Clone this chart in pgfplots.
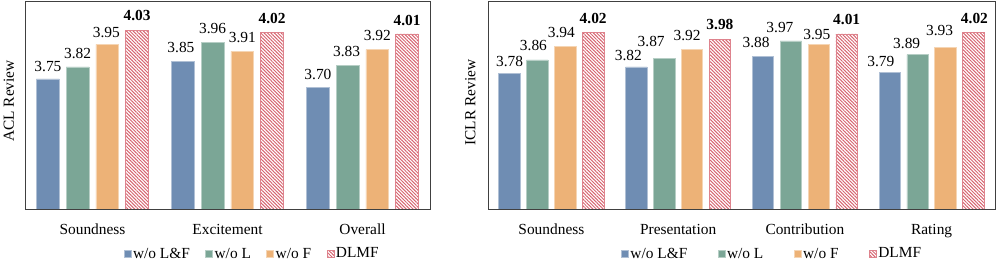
\documentclass[border=0pt]{standalone}
\usepackage{fontspec}
\setmainfont{Liberation Serif}
\usepackage{pgfplots}
\pgfplotsset{compat=1.18}
\usepackage{pgfplotstable}
\usetikzlibrary{patterns,patterns.meta}

\definecolor{cblue}{RGB}{111,141,179}
\definecolor{cgreen}{RGB}{123,166,150}
\definecolor{corange}{RGB}{237,178,119}
\definecolor{cred}{RGB}{214,100,112}
\definecolor{frame}{RGB}{64,64,64}

% ACL review
\pgfplotstableread{
x y dx dy
0 3.75 0 7.6
1 3.85 -2 9
2 3.70 0 8.3
}\ALB
\pgfplotstableread{
x y dx dy
0 3.82 0 8.3
1 3.96 0 9
2 3.83 -1 9
}\ALG
\pgfplotstableread{
x y dx dy
0 3.95 -1 7
1 3.91 0 8.3
2 3.92 0 9.3
}\ALO
\pgfplotstableread{
x y dx dy
0 4.03 0 10
1 4.02 0 9
2 4.01 0 8.3
}\ALR
% ICLR review
\pgfplotstableread{
x y dx dy
0 3.78 0 7.6
1 3.82 -8 6.7
2 3.88 -7 8.7
3 3.79 -9 6
}\ILB
\pgfplotstableread{
x y dx dy
0 3.86 -4 9.3
1 3.87 -13 11.7
2 3.97 -11 8.3
3 3.89 -11 6
}\ILG
\pgfplotstableread{
x y dx dy
0 3.94 -4 8.4
1 3.92 -5 8.7
2 3.95 -2 5
3 3.93 -6 12.3
}\ILO
\pgfplotstableread{
x y dx dy
0 4.02 0 8.4
1 3.98 0 9.3
2 4.01 0 9
3 4.02 1 8.3
}\ILR

\pgfplotsset{
  sqlegend/.style={legend image code/.code={\draw[##1] (0bp,-3.5bp) rectangle (7bp,3.5bp);}},
  lab/.style={
    point meta=y,
    nodes near coords={\pgfmathprintnumber[fixed,fixed zerofill,precision=2,assume math mode=true]{\pgfplotspointmeta}},
    visualization depends on={\thisrow{dx}\as\dx},
    visualization depends on={\thisrow{dy}\as\dy},
    every node near coord/.append style={anchor=base, inner sep=0pt, xshift=\dx bp, yshift=\dy bp, text=black},
  },
  labbold/.style={
    point meta=y,
    nodes near coords={\bfseries\pgfmathprintnumber[fixed,fixed zerofill,precision=2,assume math mode=true]{\pgfplotspointmeta}},
    visualization depends on={\thisrow{dx}\as\dx},
    visualization depends on={\thisrow{dy}\as\dy},
    every node near coord/.append style={anchor=base, inner sep=0pt, xshift=\dx bp, yshift=\dy bp, text=black},
  },
  sB/.style={ybar, bar width=0.17, bar shift=0pt, fill=cblue, draw=cblue!55!white, line width=0.7bp, sqlegend, lab},
  sG/.style={ybar, bar width=0.17, bar shift=0pt, fill=cgreen, draw=cgreen!55!white, line width=0.7bp, sqlegend, lab},
  sO/.style={ybar, bar width=0.17, bar shift=0pt, fill=corange, draw=corange!55!white, line width=0.7bp, sqlegend, lab},
  sR/.style={ybar, bar width=0.17, bar shift=0pt, draw=cred!80!white, line width=0.7bp, pattern={Lines[angle=-45,distance=2.4bp,line width=1bp]}, pattern color=cred, sqlegend, labbold},
  common/.style={
    anchor=south west, scale only axis, height=208bp,
    ymin=3.0, ymax=4.2, ytick=\empty,
    major tick length=0,
    axis line style={draw=frame, line width=0.8bp},
    xticklabel style={anchor=base, yshift=-25bp},
    legend columns=-1,
    legend cell align=left,
  },
}

\begin{document}
\fontsize{15.4bp}{18bp}\selectfont
\begin{tikzpicture}
\useasboundingbox (0,0) rectangle (997bp,261bp);
\begin{axis}[common,
  at={(25bp,52bp)}, width=405bp,
  xmin=-0.5, xmax=2.5,
  xtick={0,1,2}, xticklabels={Soundness,Excitement,Overall},
  ylabel={ACL Review},
  every axis y label/.style={at={(axis description cs:-0.040,0.519)}, rotate=90, anchor=center},
  legend style={at={(axis description cs:0.5605,-0.2168)}, anchor=center, draw=none, fill=none, inner sep=0pt,
    nodes={inner sep=1.5bp}, /tikz/every even column/.append style={column sep=14bp}},
]
\addplot[sB] table[x expr=\thisrow{x}-0.33,y=y] {\ALB}; \addlegendentry{w/o L\&F}
\addplot[sG] table[x expr=\thisrow{x}-0.11,y=y] {\ALG}; \addlegendentry{w/o L}
\addplot[sO] table[x expr=\thisrow{x}+0.11,y=y] {\ALO}; \addlegendentry{w/o F}
\addplot[sR] table[x expr=\thisrow{x}+0.33,y=y] {\ALR}; \addlegendentry{DLMF}
\end{axis}
\begin{axis}[common,
  at={(488bp,52bp)}, width=507bp,
  xmin=-0.5, xmax=3.5,
  xtick={0,1,2,3}, xticklabels={Soundness,Presentation,Contribution,Rating},
  ylabel={ICLR Review},
  every axis y label/.style={at={(axis description cs:-0.0349,0.512)}, rotate=90, anchor=center},
  legend style={at={(axis description cs:0.560,-0.2168)}, anchor=center, draw=none, fill=none, inner sep=0pt,
    nodes={inner sep=1.5bp}, /tikz/every even column/.append style={column sep=29bp}},
]
\addplot[sB] table[x expr=\thisrow{x}-0.33,y=y] {\ILB}; \addlegendentry{w/o L\&F}
\addplot[sG] table[x expr=\thisrow{x}-0.11,y=y] {\ILG}; \addlegendentry{w/o L}
\addplot[sO] table[x expr=\thisrow{x}+0.11,y=y] {\ILO}; \addlegendentry{w/o F}
\addplot[sR] table[x expr=\thisrow{x}+0.33,y=y] {\ILR}; \addlegendentry{DLMF}
\end{axis}
\end{tikzpicture}
\end{document}
